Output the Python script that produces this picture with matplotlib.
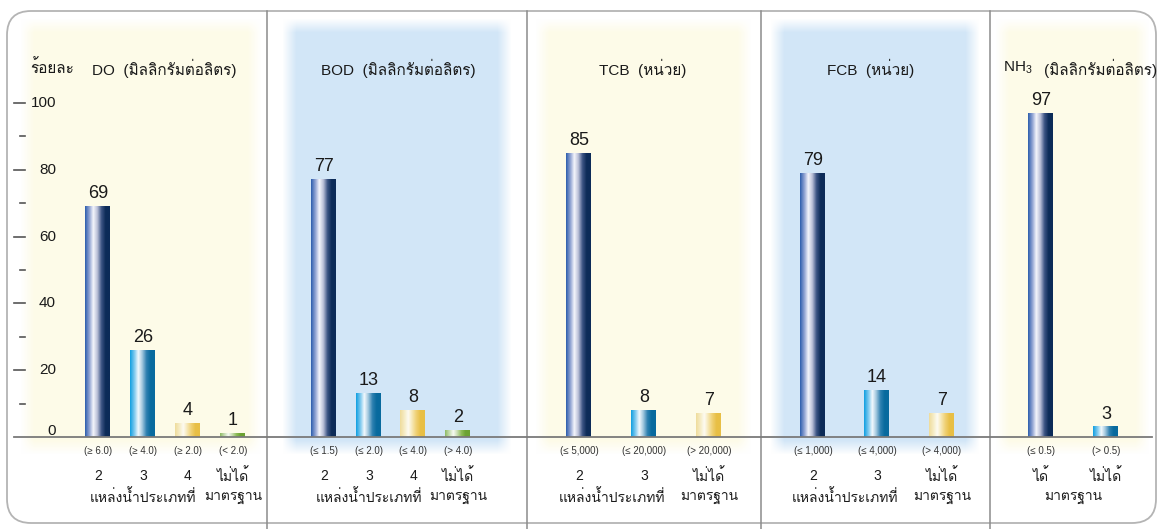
import matplotlib
matplotlib.use('Agg')
import matplotlib.pyplot as plt
import numpy as np
from matplotlib import font_manager
from matplotlib.ft2font import FT2Font
from matplotlib.colors import LinearSegmentedColormap, to_rgb
from matplotlib.patches import FancyBboxPatch

# ---- data ----
do_values = [69, 26, 4, 1]
do_limits = ['(≥ 6.0)', '(≥ 4.0)', '(≥ 2.0)', '(< 2.0)']
do_classes = ['2', '3', '4', 'ไม่ได้']

bod_values = [77, 13, 8, 2]
bod_limits = ['(≤ 1.5)', '(≤ 2.0)', '(≤ 4.0)', '(> 4.0)']
bod_classes = ['2', '3', '4', 'ไม่ได้']

tcb_values = [85, 8, 7]
tcb_limits = ['(≤ 5,000)', '(≤ 20,000)', '(> 20,000)']
tcb_classes = ['2', '3', 'ไม่ได้']

fcb_values = [79, 14, 7]
fcb_limits = ['(≤ 1,000)', '(≤ 4,000)', '(> 4,000)']
fcb_classes = ['2', '3', 'ไม่ได้']

nh3_values = [97, 3]
nh3_limits = ['(≤ 0.5)', '(> 0.5)']
nh3_classes = ['ได้', 'ไม่ได้']

titles = ['DO  (มิลลิกรัมต่อลิตร)', 'BOD  (มิลลิกรัมต่อลิตร)', 'TCB  (หน่วย)',
          'FCB  (หน่วย)', '(มิลลิกรัมต่อลิตร)']
y_ticks = [0, 20, 40, 60, 80, 100]


# ---- fonts: find something that can draw Thai ----
def find_thai_family():
    for f in font_manager.fontManager.ttflist:
        try:
            if 0x0E01 in FT2Font(f.fname).get_charmap():
                return f.name
        except Exception:
            pass
    return None

fams = ['Liberation Sans']
tf = find_thai_family()
if tf:
    fams.append(tf)
fams.append('DejaVu Sans')
plt.rcParams['font.family'] = fams
plt.rcParams['mathtext.fontset'] = 'custom'
plt.rcParams['mathtext.rm'] = 'Liberation Sans'
plt.rcParams['mathtext.it'] = 'Liberation Sans'

# ---- layout (pixel units) ----
W, H = 1160, 529
base_y, px_per_unit = 437, 3.34
top_y = 25
bar_w = 25
centers = [[98, 143, 188, 233], [324, 369, 413, 458], [579, 644, 709],
           [813, 877, 942], [1041, 1106]]
seps = [267, 527, 761, 990]
bg = [(20, 262, '#fdfbe8'), (282, 512, '#d2e6f7'), (535, 752, '#fdfbe8'),
      (770, 980, '#d2e6f7'), (995, 1150, '#fdfbe8')]

grads = {
    'navy': ['#2f5fae', '#8fa2d2', '#f4f5fb', '#b7bdd6', '#3b5383', '#0c2b58', '#0c2b58'],
    'cyan': ['#12a0e2', '#7cc8ee', '#f2f9fd', '#9cc4dc', '#2d80b0', '#086a9e', '#086a9e'],
    'yellow': ['#efdc9c', '#f6ecc4', '#fdfbf2', '#f6e6b0', '#efcf70', '#e8bf45', '#e8bf45'],
    'green': ['#8fbb66', '#c5dcb0', '#f7faf3', '#c6dcad', '#8cbb55', '#6ca232', '#6ca232'],
}
bar_colors = [['navy', 'cyan', 'yellow', 'green'], ['navy', 'cyan', 'yellow', 'green'],
              ['navy', 'cyan', 'yellow'], ['navy', 'cyan', 'yellow'], ['navy', 'cyan']]

fig = plt.figure(figsize=(W / 100, H / 100), dpi=100)
fig.patch.set_facecolor('white')

# background axes in pixel coords
ax0 = fig.add_axes([0, 0, 1, 1])
ax0.set_xlim(0, W)
ax0.set_ylim(H, 0)
ax0.axis('off')

card = FancyBboxPatch((7, 11), 1149, 512, boxstyle='round,pad=0,rounding_size=24',
                      fc='white', ec='#b4b4b4', lw=1.3, zorder=0)
ax0.add_patch(card)


def soft_box(x0, x1, y0, y1, color, feather):
    xs = np.linspace(x0, x1, int(x1 - x0))
    ys = np.linspace(y0, y1, int(y1 - y0))
    axv = np.clip((xs - x0) / feather, 0, 1) * np.clip((x1 - xs) / feather, 0, 1)
    ayv = np.clip((ys - y0) / feather, 0, 1) * np.clip((y1 - ys) / feather, 0, 1)
    a = np.outer(ayv, axv)
    img = np.zeros((len(ys), len(xs), 4))
    img[..., :3] = to_rgb(color)
    img[..., 3] = a
    ax0.imshow(img, extent=(x0, x1, y1, y0), aspect='auto', zorder=1, interpolation='bilinear')


for x0, x1, c in bg:
    soft_box(x0, x1, 18, 455, c, 14)

for s in seps:
    ax0.plot([s, s], [11, H], color='#8c8c8c', lw=1.1, zorder=2)

# data axes
ax = fig.add_axes([14 / W, (H - base_y) / H, (1152 - 14) / W, (base_y - top_y) / H])
ax.patch.set_alpha(0)
ax.axis('off')
ymax = (base_y - top_y) / px_per_unit

all_values = [do_values, bod_values, tcb_values, fcb_values, nh3_values]
all_limits = [do_limits, bod_limits, tcb_limits, fcb_limits, nh3_limits]
all_classes = [do_classes, bod_classes, tcb_classes, fcb_classes, nh3_classes]

for vals, xs, cols in zip(all_values, centers, bar_colors):
    for v, x, c in zip(vals, xs, cols):
        cmap = LinearSegmentedColormap.from_list(c, grads[c])
        ax.imshow(np.linspace(0, 1, 64)[None, :], cmap=cmap, aspect='auto',
                  extent=(x - bar_w / 2, x + bar_w / 2, 0, v), zorder=3)
        ax.text(x, v + 1.3, str(v), ha='center', va='bottom', fontsize=13, color='#1a1a1a')

# baseline and y ticks
ax.plot([14, 1152], [0, 0], color='#7a7a7a', lw=1.3, clip_on=False, zorder=4)
for t in y_ticks:
    if t > 0:
        ax.plot([14, 25], [t, t], color='#555555', lw=1.2, clip_on=False)
        ax.text(56, t, str(t), ha='right', va='center', fontsize=11, color='#1a1a1a')
    else:
        ax.text(56, 1.9, '0', ha='right', va='center', fontsize=11, color='#1a1a1a')
    if t < 100:
        ax.plot([20, 25], [t + 10, t + 10], color='#555555', lw=1.2, clip_on=False)

ax.set_xlim(14, 1152)
ax.set_ylim(0, ymax)

# headers
ax0.text(30, 68, 'ร้อยละ', ha='left', va='center', fontsize=11, color='#1a1a1a')
ax0.text(92, 68, titles[0], ha='left', va='center', fontsize=11, color='#1a1a1a')
ax0.text(398, 68, titles[1], ha='center', va='center', fontsize=11, color='#1a1a1a')
ax0.text(643, 68, titles[2], ha='center', va='center', fontsize=11, color='#1a1a1a')
ax0.text(871, 68, titles[3], ha='center', va='center', fontsize=11, color='#1a1a1a')
ax0.text(1003, 68, 'NH$_3$', ha='left', va='center', fontsize=11, color='#1a1a1a')
ax0.text(1044, 68, titles[4], ha='left', va='center', fontsize=11, color='#1a1a1a')

# labels under the axis
for lims, cls, xs in zip(all_limits, all_classes, centers):
    for l, c, x in zip(lims, cls, xs):
        ax0.text(x, 451, l, ha='center', va='center', fontsize=7, color='#333333')
        ax0.text(x, 476, c, ha='center', va='center', fontsize=10, color='#1a1a1a')
    if cls[0] == 'ได้':
        ax0.text(np.mean(xs), 497, 'มาตรฐาน', ha='center', va='center', fontsize=10, color='#1a1a1a')
    else:
        ax0.text(np.mean(xs[:-1]), 497, 'แหล่งน้ำประเภทที่', ha='center', va='center',
                 fontsize=10, color='#1a1a1a')
        ax0.text(xs[-1], 497, 'มาตรฐาน', ha='center', va='center', fontsize=10, color='#1a1a1a')

fig.savefig('out.png', dpi=100)
